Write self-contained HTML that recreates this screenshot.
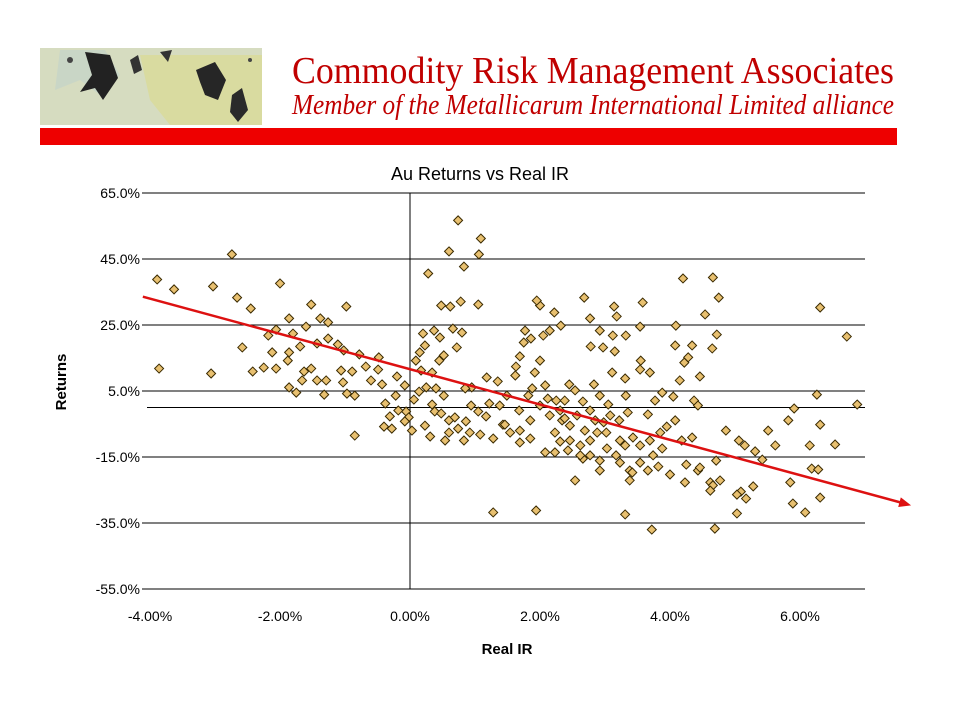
<!DOCTYPE html>
<html><head><meta charset="utf-8"><style>
body{margin:0;background:#fff;width:960px;height:720px;overflow:hidden}
svg{display:block}
</style></head><body>
<svg id="c" width="960" height="720" font-family="Liberation Sans, Arial, sans-serif">
<g>
<rect x="40" y="48" width="222" height="77" fill="#d6dcc0"/>
<polygon points="60,50 105,50 120,75 100,95 80,80 55,90" fill="#c9d6c6"/>
<polygon points="140,55 262,55 262,125 170,125 150,100" fill="#d9dba0"/>
<polygon points="85,52 110,55 118,78 103,100 95,88 80,92 92,75" fill="#222"/>
<polygon points="130,60 138,55 142,70 134,74" fill="#333"/>
<polygon points="196,70 215,62 226,80 218,100 205,95 200,82" fill="#262626"/>
<polygon points="232,95 242,88 248,110 238,122 230,112" fill="#2a2a2a"/>
<polygon points="160,52 172,50 168,62" fill="#333"/>
<circle cx="70" cy="60" r="3" fill="#444"/><circle cx="250" cy="60" r="2" fill="#444"/>
</g>
<text x="292" y="83" font-family="Liberation Serif, serif" font-size="38" fill="#c00000" textLength="602" lengthAdjust="spacingAndGlyphs">Commodity Risk Management Associates</text>
<text x="292" y="114" font-family="Liberation Serif, serif" font-style="italic" font-size="28" fill="#c00000" textLength="602" lengthAdjust="spacingAndGlyphs">Member of the Metallicarum International Limited alliance</text>
<rect x="40" y="128" width="857" height="17" fill="#ee0000"/>
<text x="480" y="180" text-anchor="middle" font-size="18">Au Returns vs Real IR</text>
<g id="grid"></g><g id="axes"></g><g id="pts"></g><g id="trend"></g>
<text x="507" y="654" text-anchor="middle" font-size="15" font-weight="bold">Real IR</text>
<text transform="translate(66,382) rotate(-90)" text-anchor="middle" font-size="15" font-weight="bold">Returns</text>
</svg>
<script>
const xTicks=[-4,-2,0,2,4,6];
const xTickLabels=["-4.00%","-2.00%","0.00%","2.00%","4.00%","6.00%"];
const yTicks=[65,45,25,5,-15,-35,-55];
const yTickLabels=["65.0%","45.0%","25.0%","5.0%","-15.0%","-35.0%","-55.0%"];
const realIR=[-3.89,-3.63,-3.03,-2.74,-2.66,-2.45,-2.58,-2.00,-2.18,-2.06,-1.80,-1.86,-1.52,-1.60,-1.38,-1.26,-1.26,-0.98,-1.11,-1.43,-1.69,-2.12,-1.86,-2.06,-1.88,-1.63,-1.66,-2.25,-1.86,-3.86,-3.06,-2.42,-1.06,-1.02,-0.78,-0.85,-1.32,-1.03,-0.97,-1.29,-1.43,-1.52,-1.75,-0.89,-0.85,-0.68,-0.49,-0.48,-0.60,-0.43,-0.38,-0.31,-0.28,-0.40,-0.22,-0.20,-0.08,-0.06,-0.02,-0.08,0.03,0.06,
0.74,0.60,1.09,1.06,0.83,0.28,0.62,0.78,0.48,1.05,0.37,0.66,0.20,0.23,0.15,0.46,0.52,0.72,0.80,0.45,0.34,0.17,0.09,0.25,0.40,0.52,0.14,0.34,0.38,0.48,0.60,0.69,0.60,0.74,0.86,0.94,1.05,1.17,1.08,0.95,1.18,0.85,1.22,1.38,1.28,1.43,1.54,1.68,1.35,1.49,1.62,1.69,1.75,1.86,1.77,1.63,1.92,2.00,2.05,2.15,2.08,1.88,1.82,2.12,2.25,2.00,1.95,2.22,2.32,2.68,2.77,2.92,2.78,2.97,3.15,3.18,3.12,3.32,3.11,3.31,3.54,3.32,3.55,2.45,2.54,2.66,2.83,2.92,3.05,2.38,2.34,2.46,2.57,2.69,2.77,2.88,2.98,3.08,3.22,3.35,2.77,2.66,2.92,3.03,3.17,3.31,3.43,3.54,3.69,3.74,3.88,2.92,3.23,3.38,3.54,3.66,3.82,4.00,4.25,4.43,4.71,3.85,3.95,4.08,4.18,4.34,3.66,3.77,3.88,4.05,4.15,4.22,4.08,4.09,4.28,4.34,4.46,4.37,4.43,4.20,4.66,4.75,4.72,4.54,4.65,3.69,3.54,3.14,3.58,4.23,4.62,4.66,4.77,4.62,4.69,4.46,4.86,5.06,5.15,5.31,5.42,5.62,5.51,5.82,5.91,6.15,6.31,5.85,6.18,5.89,6.08,6.31,6.28,6.54,6.31,6.26,6.72,6.88,5.28,5.09,5.03,5.17,5.03,3.31,3.72,1.94,1.28,3.38,3.42,2.54,2.62,2.43,2.23,2.08,1.85,1.69,1.46,0.92,0.83,2.23,2.31,2.46,2.62,2.31,2.38,2.77,2.85,2.00,2.15,1.85,1.69,3.02,3.23,0.54,0.23,0.31,-0.18];
const returns=[38.8,35.8,36.7,46.4,33.3,30.0,18.2,37.6,21.8,23.6,22.4,27.0,31.2,24.5,27.0,25.8,20.9,30.6,19.1,19.4,18.5,16.7,16.7,11.8,14.2,10.9,8.2,12.1,6.1,11.8,10.3,10.9,11.2,17.3,16.1,-8.5,3.9,7.6,4.2,8.2,8.2,11.8,4.5,10.9,3.6,12.4,11.5,15.2,8.2,7.0,1.2,-2.7,-6.4,-5.8,3.6,9.4,6.7,-1.2,-3.0,-4.2,-7.0,2.4,
56.7,47.3,51.2,46.4,42.7,40.6,30.6,32.1,30.9,31.2,23.3,23.9,22.4,18.8,16.7,21.2,15.8,18.2,22.7,14.2,10.6,11.2,14.2,6.1,5.8,3.6,4.8,0.9,-1.2,-1.8,-3.9,-3.0,-7.6,-6.4,-4.2,0.6,-1.2,-2.7,-8.2,6.1,9.1,5.8,1.2,0.6,-9.4,-5.2,-7.6,-0.9,7.9,3.6,9.7,15.5,19.7,20.9,23.3,12.4,10.6,14.2,21.8,23.3,6.7,5.8,3.6,2.7,2.1,30.9,32.4,28.8,24.8,33.3,27.0,23.3,18.5,18.2,17.0,27.6,21.8,21.8,10.6,8.8,11.5,3.6,14.2,7.0,5.2,1.8,7.0,3.6,0.9,2.1,-3.9,-5.5,-2.4,-7.0,-10.0,-7.6,-4.5,-2.4,-3.9,-1.5,-14.5,-15.5,-16.1,-12.4,-14.5,-11.5,-9.1,-11.5,-10.0,-14.5,-12.4,-19.1,-16.7,-19.1,-16.7,-19.1,-17.9,-20.3,-17.3,-19.1,-16.1,-7.6,-5.8,-3.9,-10.0,-9.1,-2.1,2.1,4.5,3.3,8.2,13.6,18.8,24.8,15.2,18.8,9.4,2.1,0.6,39.1,39.4,33.3,22.1,28.2,17.9,10.6,24.5,30.6,31.8,-22.7,-22.7,-23.6,-22.1,-25.2,-36.7,-18.2,-7.0,-10.0,-11.5,-13.3,-15.8,-11.5,-7.0,-3.9,-0.3,-11.5,-5.2,-22.7,-18.5,-29.1,-31.8,-27.3,-18.8,-11.2,30.3,3.9,21.5,0.9,-23.9,-25.5,-26.4,-27.6,-32.1,-32.4,-37.0,-31.2,-31.8,-22.1,-19.7,-22.1,-14.5,-13.0,-13.6,-13.6,-9.4,-10.6,-5.2,-7.6,-10.0,-7.6,-10.3,-10.0,-11.5,-0.9,-3.3,-0.9,-3.9,0.6,-2.4,-3.9,-7.0,-7.6,-10.0,-10.0,-5.5,-8.8,-0.9];
const trendSlope=[-5.35];
const trendIntercept=[11.6];
const trendRange=[-4.11,7.62];

const NS="http://www.w3.org/2000/svg";
const X0=147,X1=865,Y0=193,Y1=589;
const xs=v=>410+v*65;
const ys=v=>Y0+(65-v)*(Y1-Y0)/120;
function mk(tag,attrs,parent){const e=document.createElementNS(NS,tag);for(const k in attrs)e.setAttribute(k,attrs[k]);parent.appendChild(e);return e;}
const grid=document.getElementById('grid'),axes=document.getElementById('axes'),pts=document.getElementById('pts'),tr=document.getElementById('trend');
yTicks.forEach((t,i)=>{
  const l=mk('line',{x1:X0,x2:X1,y1:ys(t),y2:ys(t),stroke:'#000','stroke-width':1},grid);
  
  
  const tk=mk('line',{x1:X0-5,x2:X0,y1:ys(t),y2:ys(t),stroke:'#000'},axes);
  
  
  const tx=mk('text',{x:X0-7,y:ys(t)+5,'text-anchor':'end','font-size':14},axes);
  tx.textContent=yTickLabels[i];
  
  
});
const xa=mk('line',{x1:X0,x2:X1,y1:ys(0),y2:ys(0),stroke:'#000'},axes);


const ya=mk('line',{x1:xs(0),x2:xs(0),y1:Y0,y2:Y1,stroke:'#000'},axes);


xTicks.forEach((t,i)=>{
  const tx=mk('text',{x:xs(t),y:621,'text-anchor':'middle','font-size':14},axes);
  tx.textContent=xTickLabels[i];
  
  
});
realIR.forEach((v,i)=>{
  const cx=xs(v),cy=ys(returns[i]);
  const p=mk('polygon',{points:`${cx},${cy-4.5} ${cx+4.5},${cy} ${cx},${cy+4.5} ${cx-4.5},${cy}`,fill:'#e8c070',stroke:'#3a2a00','stroke-width':1},pts);
  
  
});
const ax=xs(trendRange[0]),ay=ys(trendIntercept[0]+trendSlope[0]*trendRange[0]);
const bx=xs(trendRange[1]),by=ys(trendIntercept[0]+trendSlope[0]*trendRange[1]);
const ln=mk('line',{x1:ax,y1:ay,x2:bx,y2:by,stroke:'#dd1111','stroke-width':2.5},tr);


const ang=Math.atan2(by-ay,bx-ax);
const hx=bx+6*Math.cos(ang),hy=by+6*Math.sin(ang);
const a1x=bx-6*Math.cos(ang)+5*Math.sin(ang),a1y=by-6*Math.sin(ang)-5*Math.cos(ang);
const a2x=bx-6*Math.cos(ang)-5*Math.sin(ang),a2y=by-6*Math.sin(ang)+5*Math.cos(ang);
const ah=mk('polygon',{points:`${hx},${hy} ${a1x},${a1y} ${a2x},${a2y}`,fill:'#dd1111'},tr);


</script>
</body></html>
